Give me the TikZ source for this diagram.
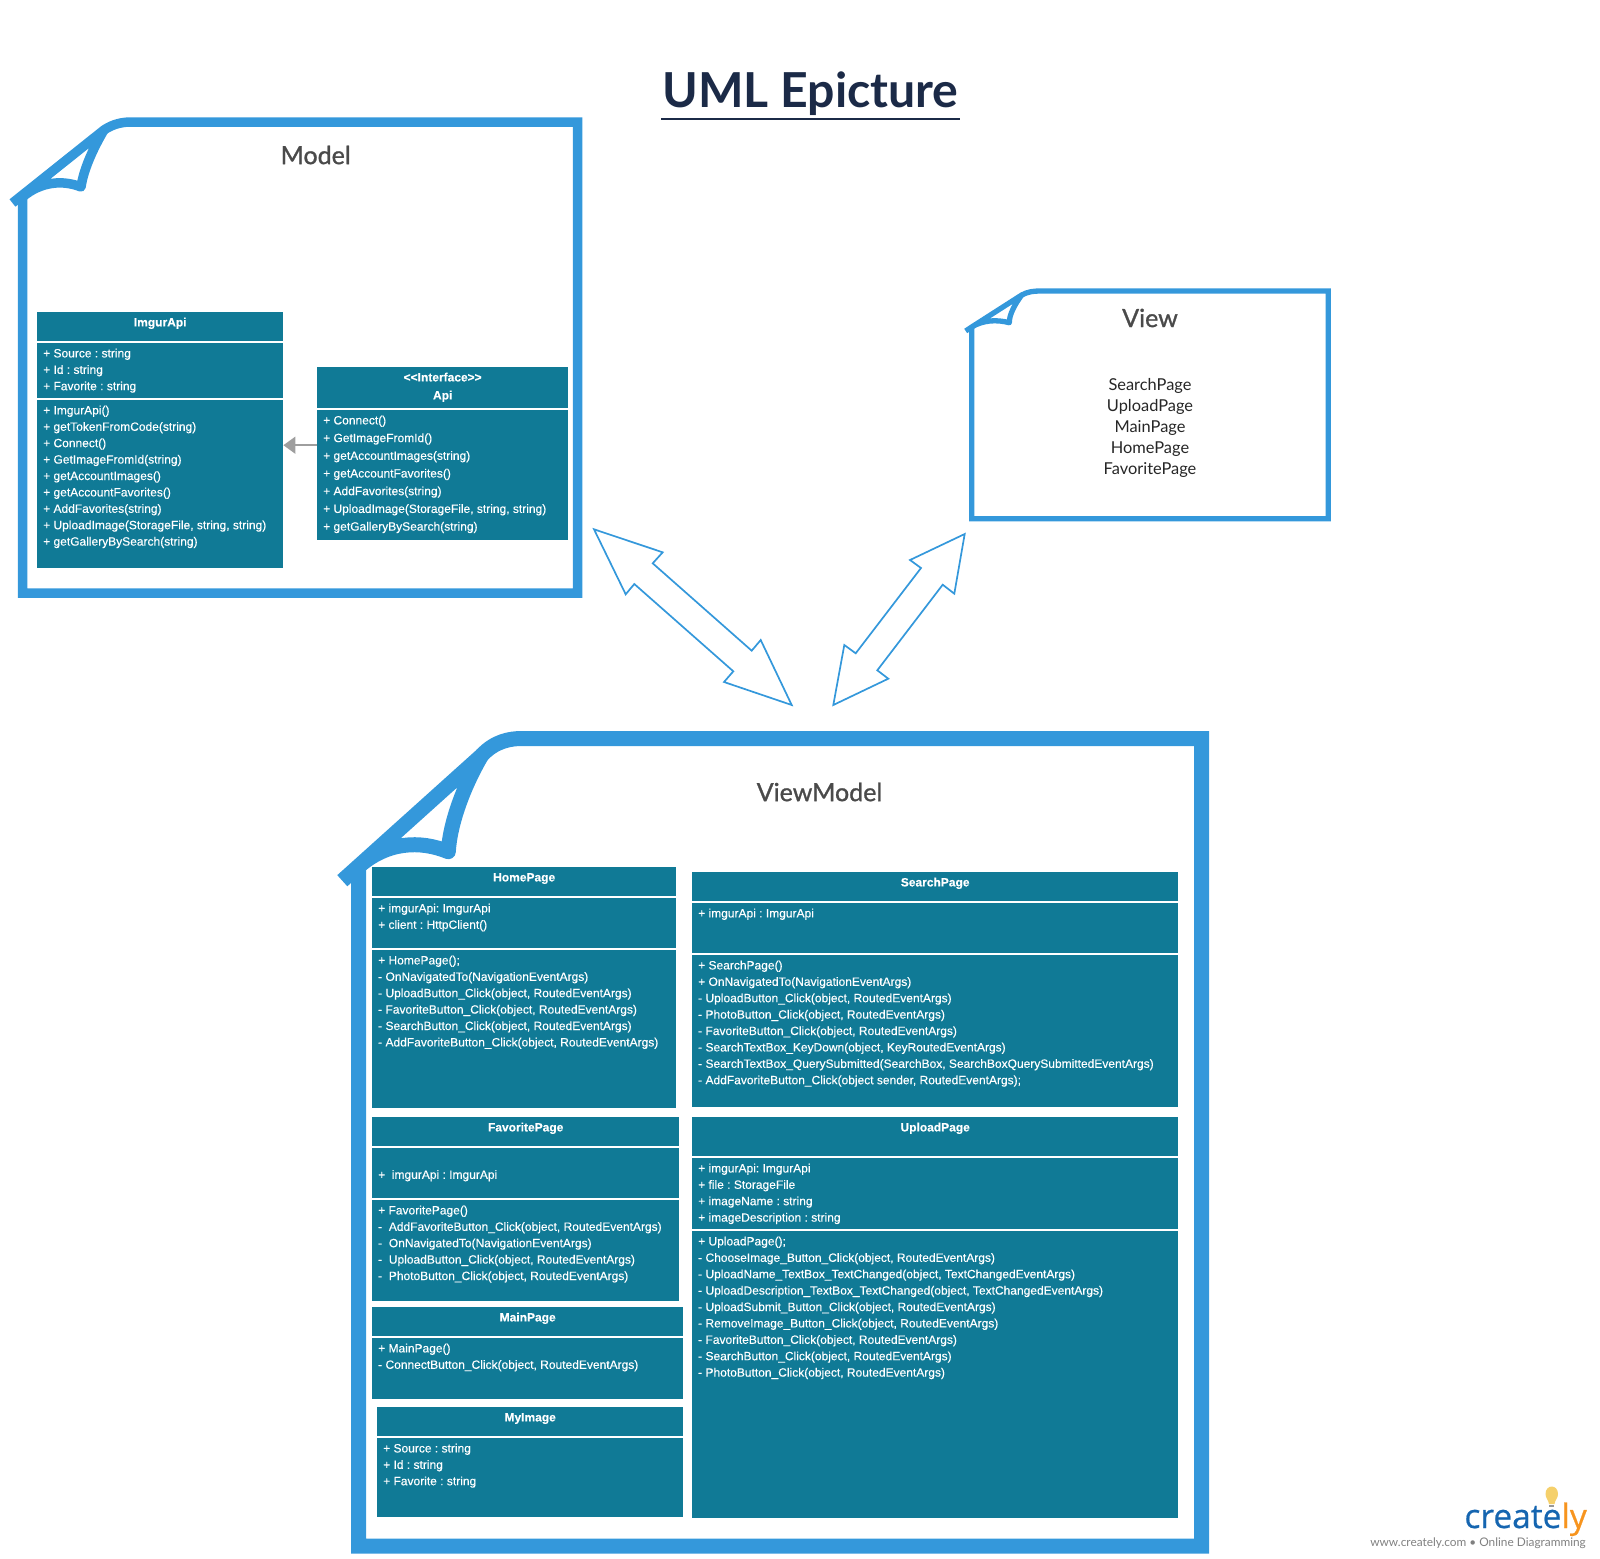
\documentclass[tikz,border=0pt]{standalone}
\usepackage{fontspec}
\setmainfont{Liberation Sans}[FakeBold=0.25]
\newfontfamily\latofont{Lato}
\newfontface\latohead{Lato}[FakeBold=1.1]
\newfontface\logofont{Open Sans}[FakeBold=0.6]
\usepackage{xcolor}
\usetikzlibrary{arrows.meta,calc,positioning}

\definecolor{umlteal}{HTML}{107A96}
\definecolor{frameblue}{HTML}{3498DB}
\definecolor{titlenavy}{HTML}{1B2A47}
\definecolor{headgray}{HTML}{4A4A4A}
\definecolor{logoblue}{HTML}{1565B0}
\definecolor{logoorange}{HTML}{F7941E}
\definecolor{bulbyellow}{HTML}{F5D06B}

\tikzset{
  umlbox/.style={fill=umlteal,text=white,anchor=north west,inner sep=0pt,font=\frenchspacing\fontsize{12}{16.4}\selectfont},
  framehead/.style={text=headgray,font=\latohead\fontsize{25}{30}\selectfont},
  pageframe/.style={draw=frameblue,line join=miter},
  pagefold/.style={draw=frameblue,line join=round},
  biarrow/.style={draw=frameblue,line width=1.7pt,line join=miter,fill=white}
}

\newcommand{\umlpart}[7][16.4]{%
  \node[umlbox] (#2) at (#3,#4) {\parbox[t][#6pt][t]{#5pt}{\baselineskip=#1pt\raggedright\leftskip=6pt\rule{0pt}{14.2pt}#7}};}

\begin{document}
\begin{tikzpicture}[x=1pt,y=-1pt]
  \useasboundingbox (0,0) rectangle (1600,1558);

  \node[text=titlenavy,font=\latofont\bfseries\fontsize{48.2}{52}\selectfont,inner xsep=1pt,inner ysep=0pt] (epicture) at (810.5,94) {UML Epicture};
  \draw[titlenavy,line width=1.7pt] (epicture.west |- 0,119) -- (epicture.east |- 0,119);

  % Model
  \draw[pageframe,line width=9.5pt] (22.5,195) -- (22.5,593) -- (577.7,593) -- (577.7,122) -- (131,122)
    .. controls (123.5,122) and (113.5,123.5) .. (104,130);
  \draw[pagefold,line width=9.5pt] (12.5,203) -- (104,130)
    .. controls (92.5,149.5) and (83.5,170) .. (81,187)
    .. controls (63.7,180) and (41.5,181) .. (22.5,197);
  \node[framehead] (modelhead) at (315.7,155) {Model};

  \umlpart{imgurhead}{37}{312}{246}{28.7}{\centering\bfseries ImgurApi}
  \umlpart{imgurattr}{37}{343}{246}{54.7}{+ Source : string\\+ Id : string\\+ Favorite : string}
  \umlpart{imgurops}{37}{400}{246}{167.7}{+ ImgurApi()\\+ getTokenFromCode(string)\\+ Connect()\\+ GetImageFromId(string)\\+ getAccountImages()\\+ getAccountFavorites()\\+ AddFavorites(string)\\+ UploadImage(StorageFile, string, string)\\+ getGalleryBySearch(string)}
  \umlpart[18]{apihead}{317}{367}{251}{41}{\centering\bfseries {<}{<}Interface{>}{>}\\Api}
  \umlpart[17.7]{apiops}{317}{410}{251}{130}{+ Connect()\\+ GetImageFromId()\\+ getAccountImages(string)\\+ getAccountFavorites()\\+ AddFavorites(string)\\+ UploadImage(StorageFile, string, string)\\+ getGalleryBySearch(string)}
  \coordinate (usestart) at ([yshift=30pt]apiops.west);
  \draw[-{Triangle[length=12pt,width=17pt]},draw=black!38,fill=black!38,line width=1.6pt] (usestart) -- (usestart -| imgurops.east);

  % View
  \draw[pageframe,line width=5.3pt] (971.7,327) -- (971.7,518.8) -- (1328.3,518.8) -- (1328.3,291) -- (1040,291)
    .. controls (1033.7,291) and (1027.7,291.7) .. (1021.7,295);
  \draw[pagefold,line width=5.3pt] (965.7,331) -- (971.7,327) -- (1021.7,295)
    .. controls (1014.7,304.5) and (1009.2,314.7) .. (1009.3,322.7)
    .. controls (996.7,319.4) and (983,320) .. (971.7,327);
  \node[framehead] (viewhead) at (1150,318) {View};
  \node[text=black!85,align=center,font=\latofont\fontsize{16.4}{21}\selectfont,anchor=north] (viewpages) at (1150,375) {SearchPage\\UploadPage\\MainPage\\HomePage\\FavoritePage};

  % arrows between the three packages
  \draw[biarrow] (594,529.3) -- (662.7,552.3) -- (652.7,563.3) -- (751.7,650.7) -- (760.7,640) -- (791.7,705)
    -- (724,682) -- (733.3,671.3) -- (634.3,584) -- (625.7,594.3) -- cycle;
  \draw[biarrow] (964.7,534) -- (910,560) -- (921,568) -- (855.7,653.3) -- (844.3,645) -- (833.3,705)
    -- (888.3,678.7) -- (877.3,670.3) -- (942.7,584.7) -- (954.3,593.7) -- cycle;

  % ViewModel
  \draw[pageframe,line width=15pt] (358.5,866.7) -- (358.5,1546) -- (1201.5,1546) -- (1201.5,738.5) -- (522,738.5)
    .. controls (510,738.5) and (495,741) .. (481.7,755.3);
  \draw[pagefold,line width=15pt] (342.3,880.7) -- (481.7,755.3)
    .. controls (463.3,786.7) and (450,823.3) .. (448.3,851.7)
    .. controls (420,840) and (386.7,841.7) .. (358.5,866.7);
  \node[framehead] (viewmodelhead) at (819.5,792) {ViewModel};

  \umlpart{homehead}{372}{867}{304}{28.7}{\centering\bfseries HomePage}
  \umlpart{homeattr}{372}{898}{304}{50}{+ imgurApi: ImgurApi\\+ client : HttpClient()}
  \umlpart{homeops}{372}{950}{304}{158}{+ HomePage();\\- OnNavigatedTo(NavigationEventArgs)\\- UploadButton\_Click(object, RoutedEventArgs)\\- FavoriteButton\_Click(object, RoutedEventArgs)\\- SearchButton\_Click(object, RoutedEventArgs)\\- AddFavoriteButton\_Click(object, RoutedEventArgs)}

  \umlpart{favhead}{372}{1117}{307}{28.7}{\centering\bfseries FavoritePage}
  \umlpart{favattr}{372}{1148}{307}{50}{\\+\ \ imgurApi : ImgurApi}
  \umlpart{favops}{372}{1200}{307}{101}{+ FavoritePage()\\-\ \ AddFavoriteButton\_Click(object, RoutedEventArgs)\\-\ \ OnNavigatedTo(NavigationEventArgs)\\-\ \ UploadButton\_Click(object, RoutedEventArgs)\\-\ \ PhotoButton\_Click(object, RoutedEventArgs)}

  \umlpart{mainhead}{372}{1307}{311}{29}{\centering\bfseries MainPage}
  \umlpart{mainops}{372}{1338}{311}{61}{+ MainPage()\\- ConnectButton\_Click(object, RoutedEventArgs)}

  \umlpart{imagehead}{377}{1407}{306}{29}{\centering\bfseries MyImage}
  \umlpart{imageattr}{377}{1438}{306}{79}{+ Source : string\\+ Id : string\\+ Favorite : string}

  \umlpart{searchhead}{692}{872}{486}{29}{\centering\bfseries SearchPage}
  \umlpart{searchattr}{692}{903}{486}{50}{+ imgurApi : ImgurApi}
  \umlpart{searchops}{692}{955}{486}{152}{+ SearchPage()\\+ OnNavigatedTo(NavigationEventArgs)\\- UploadButton\_Click(object, RoutedEventArgs)\\- PhotoButton\_Click(object, RoutedEventArgs)\\- FavoriteButton\_Click(object, RoutedEventArgs)\\- SearchTextBox\_KeyDown(object, KeyRoutedEventArgs)\\- SearchTextBox\_QuerySubmitted(SearchBox, SearchBoxQuerySubmittedEventArgs)\\- AddFavoriteButton\_Click(object sender, RoutedEventArgs);}

  \umlpart{uploadhead}{692}{1117}{486}{39}{\centering\bfseries UploadPage}
  \umlpart{uploadattr}{692}{1158}{486}{71}{+ imgurApi: ImgurApi\\+ file : StorageFile\\+ imageName : string\\+ imageDescription : string}
  \umlpart{uploadops}{692}{1231}{486}{287}{+ UploadPage();\\- ChooseImage\_Button\_Click(object, RoutedEventArgs)\\- UploadName\_TextBox\_TextChanged(object, TextChangedEventArgs)\\- UploadDescription\_TextBox\_TextChanged(object, TextChangedEventArgs)\\- UploadSubmit\_Button\_Click(object, RoutedEventArgs)\\- RemoveImage\_Button\_Click(object, RoutedEventArgs)\\- FavoriteButton\_Click(object, RoutedEventArgs)\\- SearchButton\_Click(object, RoutedEventArgs)\\- PhotoButton\_Click(object, RoutedEventArgs)}

  % logo
  \fill[bulbyellow] (1545.5,1494) .. controls (1545.5,1484) and (1558,1484) .. (1558,1494)
    .. controls (1558,1498) and (1555,1500) .. (1554.5,1504) -- (1549,1504) .. controls (1548.5,1500) and (1545.5,1498) .. (1545.5,1494) -- cycle;
  \fill[black!40] (1549.3,1504.5) rectangle (1554.2,1507);
  \node[anchor=base east,inner sep=0pt,font=\logofont\fontsize{33.5}{36}\selectfont] (logo) at (1587,1528) {\textcolor{logoblue}{create}\textcolor{logoorange}{ly}};
  \node[anchor=base east,inner sep=0pt,text=black!50,font=\latofont\fontsize{11.85}{14}\selectfont] (tagline) at (1586,1546) {www.creately.com • Online Diagramming};
\end{tikzpicture}
\end{document}
